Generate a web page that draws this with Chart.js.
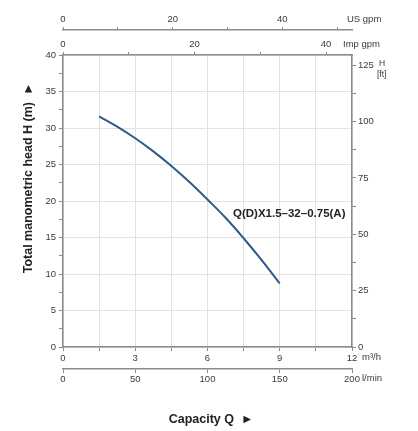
<!DOCTYPE html>
<html>
<head>
<meta charset="utf-8">
<script src="https://cdn.jsdelivr.net/npm/chart.js@4/dist/chart.umd.min.js"></script>
<style>
html,body{margin:0;padding:0;background:#fff;}
#wrap{width:418px;height:431px;position:relative;}
</style>
</head>
<body>
<div id="wrap"><canvas id="c" width="418" height="431"></canvas></div>
<script>
// ---- data (curve traced at 0.75 m3/h steps) ----
const flowM3h = [1.5, 2.25, 3, 3.75, 4.5, 5.25, 6, 6.75, 7.5, 8.25, 9];
const headM   = [31.6, 30.2, 28.6, 26.8, 24.8, 22.6, 20.2, 17.7, 14.9, 11.9, 8.7];
const seriesName = 'Q(D)X1.5–32–0.75(A)';

// ---- tick labels ----
const m3hTicks    = [0, 3, 6, 9, 12];
const lminTicks   = [0, 50, 100, 150, 200];
const usGpmTicks  = [0, 20, 40];
const impGpmTicks = [0, 20, 40];
const headMTicks  = [0, 5, 10, 15, 20, 25, 30, 35, 40];
const headFtTicks = [0, 25, 50, 75, 100, 125];

// ---- axis titles / units ----
const xTitle = 'Capacity Q  ►';
const yTitle = 'Total manometric head H (m)  ►';
const unitM3h = 'm³/h';
const unitLmin = 'l/min';
const unitUs = 'US gpm';
const unitImp = 'Imp gpm';
const unitFtH = 'H';
const unitFt = '[ft]';

const FONT = '"Liberation Sans", Arial, Helvetica, sans-serif';
const AX = '#8a8a8a';
const GRID = '#e2e2e2';
const TXT = '#3a3a3a';
const LINE = '#2e5b8a';
const tickFont = {family: FONT, size: 9.5};

function labelIf(list) {
  return v => list.some(t => Math.abs(t - v) < 1e-6) ? String(list.find(t => Math.abs(t - v) < 1e-6)) : '';
}
function isIn(list, v) { return list.some(t => Math.abs(t - v) < 1e-6); }

const annot = {
  id: 'annot',
  afterDraw(chart) {
    const ctx = chart.ctx;
    const a = chart.chartArea;
    ctx.save();
    ctx.fillStyle = TXT;
    ctx.textBaseline = 'middle';
    ctx.textAlign = 'left';
    ctx.font = '9.5px ' + FONT;
    ctx.fillText(unitM3h, a.right + 10, 357);
    ctx.fillText(unitLmin, a.right + 10, 378);
    ctx.fillText(unitUs, a.right - 5, 19);
    ctx.fillText(unitImp, a.right - 9, 44);
    ctx.font = '8.5px ' + FONT;
    ctx.fillText(unitFtH, a.right + 27, 64);
    ctx.fillText(unitFt, a.right + 25, 75);

    // series label
    ctx.fillStyle = '#222';
    ctx.font = 'bold 11.5px ' + FONT;
    ctx.fillText(seriesName, 233, 214);

    // axis titles
    ctx.font = 'bold 12.5px ' + FONT;
    ctx.textAlign = 'center';
    ctx.fillText(xTitle, 211, 420);
    ctx.save();
    ctx.translate(29, 178);
    ctx.rotate(-Math.PI / 2);
    ctx.fillText(yTitle, 0, 0);
    ctx.restore();
    ctx.restore();
  }
};

new Chart(document.getElementById('c'), {
  type: 'line',
  data: {
    datasets: [{
      label: seriesName,
      data: flowM3h.map((q, i) => ({x: q, y: headM[i]})),
      borderColor: LINE,
      borderWidth: 2,
      pointRadius: 0,
      fill: false,
      tension: 0.4,
      xAxisID: 'x',
      yAxisID: 'y'
    }]
  },
  options: {
    responsive: false,
    devicePixelRatio: 1,
    animation: false,
    layout: {padding: 0},
    plugins: {legend: {display: false}, tooltip: {enabled: false}},
    scales: {
      x: {
        type: 'linear', position: 'bottom', min: 0, max: 12,
        ticks: {stepSize: 1.5, autoSkip: false, maxRotation: 0, includeBounds: false,
                color: TXT, font: tickFont, padding: 2, callback: labelIf(m3hTicks)},
        grid: {color: GRID, lineWidth: 1, tickLength: 4, tickColor: AX},
        border: {color: AX, width: 1.5},
        afterFit: s => { s.height = 22; }
      },
      lmin: {
        type: 'linear', position: 'bottom', min: 0, max: 200,
        ticks: {stepSize: 50, autoSkip: false, maxRotation: 0, includeBounds: false,
                color: TXT, font: tickFont, padding: 1, callback: labelIf(lminTicks)},
        grid: {drawOnChartArea: false, color: AX, tickLength: 4, tickColor: AX},
        border: {color: AX, width: 1.5},
        afterFit: s => { s.height = 62; }
      },
      y: {
        type: 'linear', position: 'left', min: 0, max: 40,
        ticks: {stepSize: 2.5, autoSkip: false, includeBounds: false,
                color: TXT, font: tickFont, padding: 3, callback: labelIf(headMTicks)},
        grid: {
          color: c => (c.tick && isIn(headMTicks, c.tick.value)) ? GRID : 'rgba(0,0,0,0)',
          tickColor: AX, tickLength: 4, lineWidth: 1
        },
        border: {color: AX, width: 1.5},
        afterFit: s => { s.width = 63; }
      },
      ft: {
        type: 'linear', position: 'right', min: 0, max: 129.5,
        ticks: {stepSize: 12.5, autoSkip: false, includeBounds: false,
                color: TXT, font: tickFont, padding: 2, callback: labelIf(headFtTicks)},
        grid: {drawOnChartArea: false, color: AX, tickColor: AX, tickLength: 4},
        border: {color: AX, width: 1.5},
        afterFit: s => { s.width = 66; }
      },
      imp: {
        type: 'linear', position: 'top', min: 0, max: 43.95,
        ticks: {stepSize: 10, autoSkip: false, maxRotation: 0, includeBounds: false,
                color: TXT, font: tickFont, padding: 2, callback: labelIf(impGpmTicks)},
        grid: {drawOnChartArea: false, color: AX, tickColor: AX, tickLength: 3},
        border: {color: AX, width: 1.5},
        afterFit: s => { s.height = 25; }
      },
      us: {
        type: 'linear', position: 'top', min: 0, max: 52.7,
        ticks: {stepSize: 10, autoSkip: false, maxRotation: 0, includeBounds: false,
                color: TXT, font: tickFont, padding: 2, callback: labelIf(usGpmTicks)},
        grid: {drawOnChartArea: false, color: AX, tickColor: AX, tickLength: 3},
        border: {color: AX, width: 1.5},
        afterFit: s => { s.height = 30; }
      }
    }
  },
  plugins: [annot]
});
</script>
</body>
</html>
